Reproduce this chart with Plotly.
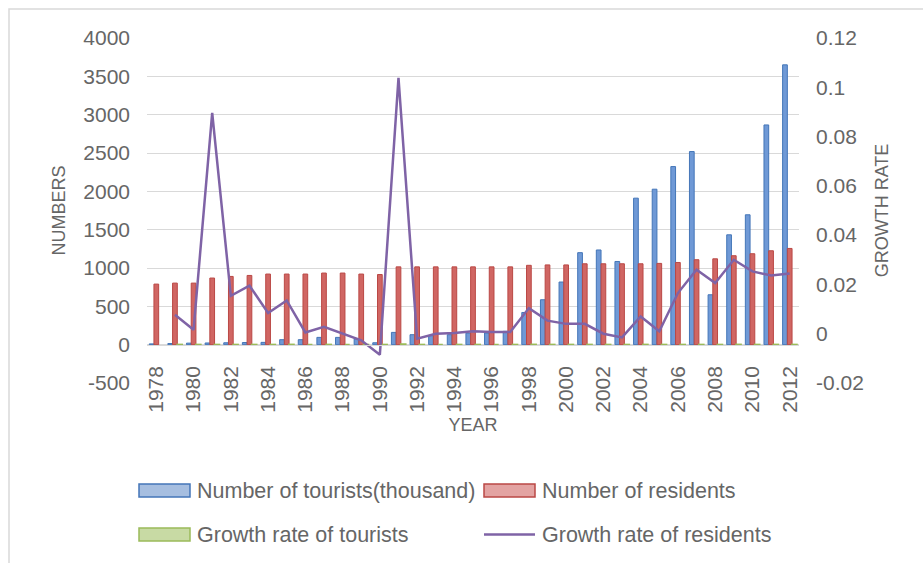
import plotly.graph_objects as go

# ---------------- data ----------------
years = ["1978", "1979", "1980", "1981", "1982", "1983", "1984", "1985", "1986", "1987",
         "1988", "1989", "1990", "1991", "1992", "1993", "1994", "1995", "1996", "1997",
         "1998", "1999", "2000", "2001", "2002", "2003", "2004", "2005", "2006", "2007",
         "2008", "2009", "2010", "2011", "2012"]

tourists = [10, 15, 20, 22, 25, 28, 30, 65, 65, 95,
            95, 75, 25, 160, 130, 117, 130, 150, 152, 174,
            420, 586, 817, 1200, 1235, 1085, 1911, 2028, 2323, 2519,
            651, 1433, 1694, 2866, 3650]

residents = [790, 803, 803, 869, 890, 903, 921, 921, 921, 934,
             934, 921, 915, 1015, 1015, 1015, 1015, 1015, 1015, 1015,
             1035, 1040, 1040, 1055, 1055, 1055, 1055, 1060, 1072, 1108,
             1120, 1160, 1186, 1225, 1255]

tourist_growth = [None, 0.5, 0.33, 0.1, 0.14, 0.12, 0.07, 1.17, 0.0, 0.46,
                  0.0, -0.21, -0.67, 5.4, -0.19, -0.1, 0.11, 0.15, 0.01, 0.14,
                  1.41, 0.4, 0.39, 0.47, 0.03, -0.12, 0.76, 0.06, 0.15, 0.08,
                  -0.74, 1.2, 0.18, 0.69, 0.27]

resident_growth = [None, 0.0077, 0.0016, 0.0896, 0.0154, 0.0195, 0.0084, 0.0135, 0.0005, 0.0028,
                   0.0002, -0.0027, -0.0085, 0.1038, -0.002, 0.0, 0.0003, 0.001, 0.0007, 0.0007,
                   0.0104, 0.0053, 0.004, 0.004, 0.0, -0.0015, 0.007, 0.001, 0.0165, 0.026,
                   0.0206, 0.030, 0.0253, 0.0236, 0.0244]

series_names = ["Number of tourists(thousand)", "Number of residents",
                "Growth rate of tourists", "Growth rate of residents"]

left_tick_vals = [-500, 0, 500, 1000, 1500, 2000, 2500, 3000, 3500, 4000]
left_tick_text = ["-500", "0", "500", "1000", "1500", "2000", "2500", "3000", "3500", "4000"]
right_tick_vals = [-0.02, 0, 0.02, 0.04, 0.06, 0.08, 0.1, 0.12]
right_tick_text = ["-0.02", "0", "0.02", "0.04", "0.06", "0.08", "0.1", "0.12"]
x_tick_vals = ["1978", "1980", "1982", "1984", "1986", "1988", "1990", "1992", "1994",
               "1996", "1998", "2000", "2002", "2004", "2006", "2008", "2010", "2012"]

# ---------------- styles ----------------
W, H = 923, 563
ML, MR, MT, MB = 147, 124, 38, 180
PW, PH = W - ML - MR, H - MT - MB
FONT = "Liberation Sans, Arial, sans-serif"
TXT = "#666666"
GRID = "#D9D9D9"

BLUE_FILL, BLUE_LINE = "#6F99D6", "#4476B8"
RED_FILL, RED_LINE = "#D06663", "#BA4845"
GREEN_FILL, GREEN_LINE = "#C3D69B", "#9BBB59"
PURPLE = "#7F63A6"

y_range = [-500, 4000]
y2_range = [-0.02, 0.12]


def px(x):
    return (x - ML) / PW


def py(y):
    return (H - MB - y) / PH


fig = go.Figure()
fig.add_trace(go.Bar(x=years, y=tourists, name=series_names[0],
                     marker=dict(color=BLUE_FILL, line=dict(color=BLUE_LINE, width=1))))
fig.add_trace(go.Bar(x=years, y=residents, name=series_names[1],
                     marker=dict(color=RED_FILL, line=dict(color=RED_LINE, width=1))))
fig.add_trace(go.Bar(x=years, y=tourist_growth, name=series_names[2],
                     marker=dict(color=GREEN_FILL, line=dict(color=GREEN_LINE, width=2))))
fig.add_trace(go.Scatter(x=years, y=resident_growth, name=series_names[3], yaxis="y2",
                         mode="lines", line=dict(color=PURPLE, width=2.5)))

zero_pos = (0 - y_range[0]) / (y_range[1] - y_range[0])

fig.update_layout(
    width=W, height=H,
    margin=dict(l=ML, r=MR, t=MT, b=MB, pad=0),
    paper_bgcolor="white", plot_bgcolor="white",
    showlegend=False,
    barmode="group", bargap=0.24, bargroupgap=0,
    font=dict(family=FONT, color=TXT, size=21),
    xaxis=dict(type="category", anchor="free", position=zero_pos,
               tickvals=x_tick_vals, tickangle=-90, ticks="",
               ticklabelstandoff=12,
               showgrid=False, showline=True, linecolor=GRID, linewidth=1,
               zeroline=False, automargin=False,
               tickfont=dict(size=21, color=TXT, family=FONT),
               title=dict(text="YEAR", font=dict(size=18, color=TXT, family=FONT), standoff=6)),
    yaxis=dict(range=y_range, tickvals=left_tick_vals, ticktext=left_tick_text,
               showgrid=True, gridcolor=GRID, gridwidth=1, zeroline=False,
               ticks="", ticklabelstandoff=16, automargin=False,
               tickfont=dict(size=21, color=TXT, family=FONT),
               title=dict(text="NUMBERS", font=dict(size=18, color=TXT, family=FONT), standoff=12)),
    yaxis2=dict(range=y2_range, overlaying="y", side="right",
                tickvals=right_tick_vals, ticktext=right_tick_text,
                showgrid=False, zeroline=False, ticks="", ticklabelstandoff=16,
                automargin=False,
                tickfont=dict(size=21, color=TXT, family=FONT),
                title=dict(text="GROWTH RATE", font=dict(size=18, color=TXT, family=FONT), standoff=12)),
)

shapes = []
# chart frame (top and left edges visible)
shapes.append(dict(type="rect", xref="paper", yref="paper",
                   x0=px(9), x1=px(940), y0=py(580), y1=py(9),
                   line=dict(color=GRID, width=1.5), fillcolor="rgba(0,0,0,0)", layer="below"))

# custom legend: (swatch left px, row center px, kind, fill, line)
legend_items = [
    (139, 490.5, "box", "#A6BEE0", BLUE_LINE),
    (484, 490.5, "box", "#E3A3A2", RED_LINE),
    (139, 534.5, "box", "#C8DAA4", GREEN_LINE),
    (484, 534.5, "line", None, PURPLE),
]
annotations = []
for (sx, cy, kind, fill, lc), name in zip(legend_items, series_names):
    if kind == "box":
        shapes.append(dict(type="rect", xref="paper", yref="paper",
                           x0=px(sx), x1=px(sx + 51), y0=py(cy + 6.5), y1=py(cy - 6.5),
                           fillcolor=fill, line=dict(color=lc, width=1.5)))
    else:
        shapes.append(dict(type="line", xref="paper", yref="paper",
                           x0=px(sx), x1=px(sx + 51), y0=py(cy), y1=py(cy),
                           line=dict(color=lc, width=2.5)))
    annotations.append(dict(xref="paper", yref="paper", x=px(sx + 56), y=py(cy),
                            xanchor="left", yanchor="middle", showarrow=False,
                            text=name, font=dict(size=21.5, color=TXT, family=FONT)))

fig.update_layout(shapes=shapes, annotations=annotations)

fig.write_html("out.html")
